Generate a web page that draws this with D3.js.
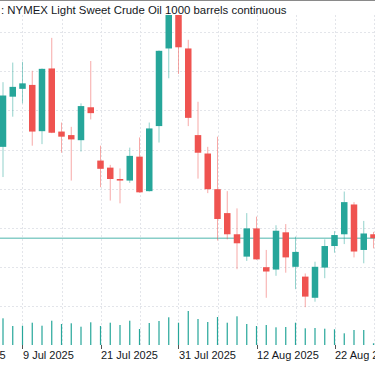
<!DOCTYPE html>
<html><head><meta charset="utf-8">
<script src="https://cdn.jsdelivr.net/npm/d3@7"></script>
<style>html,body{margin:0;padding:0;background:#fff;overflow:hidden;} svg{display:block;}</style>
</head><body>
<svg id="chart" width="375" height="366"></svg>
<script>
const title = ": NYMEX Light Sweet Crude Oil 1000 barrels continuous";
const dates = ["2025-07-07","2025-07-08","2025-07-09","2025-07-10","2025-07-11","2025-07-14","2025-07-15","2025-07-16","2025-07-17","2025-07-18",
"2025-07-21","2025-07-22","2025-07-23","2025-07-24","2025-07-25","2025-07-28","2025-07-29","2025-07-30","2025-07-31",
"2025-08-01","2025-08-04","2025-08-05","2025-08-06","2025-08-07","2025-08-08","2025-08-11","2025-08-12","2025-08-13","2025-08-14","2025-08-15",
"2025-08-18","2025-08-19","2025-08-20","2025-08-21","2025-08-22","2025-08-25","2025-08-26","2025-08-27","2025-08-28"];
const open  = [67.07,68.35,68.55,68.65,67.47,69.07,67.46,67.37,67.24,68.08,66.72,66.54,66.25,66.21,66.82,65.94,67.60,69.58,70.55,69.58,67.37,66.90,65.99,65.38,64.84,64.27,64.99,64.00,63.94,64.89,64.01,63.76,63.22,63.99,64.54,64.84,65.60,64.44,64.84];
const high  = [68.72,69.22,69.24,69.01,69.07,69.85,67.69,67.58,68.18,69.26,67.10,66.61,66.52,67.05,67.31,67.69,69.53,70.90,70.80,69.80,68.22,67.07,67.33,65.94,65.50,65.38,65.29,64.44,65.07,65.10,64.78,63.84,64.14,64.71,64.92,65.93,65.66,65.18,64.90];
const low   = [66.30,67.84,68.18,67.10,67.14,67.42,66.92,66.21,66.95,67.77,66.04,65.70,65.63,66.15,65.90,65.93,67.18,68.82,68.93,67.60,66.26,65.89,64.68,64.71,63.95,64.16,64.19,63.22,63.78,63.86,63.44,62.98,63.12,63.72,64.37,64.59,64.25,64.10,64.48];
const close = [68.38,68.60,68.69,67.46,69.06,67.43,67.33,67.26,68.11,67.93,66.51,66.25,66.21,66.84,65.91,67.54,69.52,70.60,69.61,67.81,66.92,65.99,65.23,64.84,64.61,64.99,64.20,63.89,64.93,64.25,64.39,63.25,64.01,64.54,64.82,65.66,64.40,64.86,64.74];
const volume = [267,190,193,223,193,243,210,217,183,227,190,223,200,243,160,220,240,277,223,340,260,230,280,223,287,210,190,200,177,180,223,167,170,163,157,117,150,150,17];
const tickDates  = ["2025-06-26","2025-07-09","2025-07-21","2025-07-31","2025-08-12","2025-08-22"];
const tickLabels = ["26 Jun 2025","9 Jul 2025","21 Jul 2025","31 Jul 2025","12 Aug 2025","22 Aug 2025"];
const priceGrid = [63,64,65,66,67,68,69,70];
const holidays = ["2025-07-04"];

const W = 375, H = 366;
const paneTop = 15, paneBottom = 345;
const UP = "#26a69a", DOWN = "#ef5350";
const FONT = "'Liberation Sans', Arial, sans-serif";

const parse = d3.utcParse("%Y-%m-%d"), fmt = d3.utcFormat("%Y-%m-%d");
function isTradingDay(d){ const wd = d.getUTCDay(); return wd !== 0 && wd !== 6 && !holidays.includes(fmt(d)); }
function tradingIndex(s){
  const i = dates.indexOf(s); if (i >= 0) return i;
  const d = parse(s), d0 = parse(dates[0]);
  if (d < d0) { return -d3.utcDay.range(d, d0).filter(isTradingDay).length; }
  return dates.length - 1 + d3.utcDay.range(d3.utcDay.offset(parse(dates[dates.length-1]),1), d3.utcDay.offset(d,1)).filter(isTradingDay).length;
}

const x = d3.scaleLinear().domain([0, dates.length - 1]).range([3, 373.5]);
const y = d3.scaleLinear().domain([63, 70]).range([306.4, 32]);
const yv = d3.scaleLinear().domain([0, 1000]).range([paneBottom, paneBottom - 100]);

const svg = d3.select("#chart");
svg.append("rect").attr("width", W).attr("height", H).attr("fill", "#fff");
const defs = svg.append("defs");
defs.append("clipPath").attr("id", "pane").append("rect")
  .attr("x", 0).attr("y", paneTop).attr("width", W).attr("height", paneBottom - paneTop);

const tickIdx = tickDates.map(tradingIndex);
const gridIdx = [];
tickIdx.forEach(t => { gridIdx.push(t); gridIdx.push(t + 4); });

const grid = svg.append("g").attr("clip-path", "url(#pane)")
  .attr("stroke", "#e3e5ea").attr("stroke-width", 1).attr("stroke-dasharray", "2,2");
grid.selectAll("line.v").data(gridIdx).join("line").attr("class", "v")
  .attr("x1", d => Math.round(x(d)) + 0.5).attr("x2", d => Math.round(x(d)) + 0.5)
  .attr("y1", paneTop).attr("y2", paneBottom);
grid.selectAll("line.h").data(priceGrid).join("line").attr("class", "h")
  .attr("x1", 0).attr("x2", W)
  .attr("y1", d => Math.round(y(d)) + 0.5).attr("y2", d => Math.round(y(d)) + 0.5);

// volume
const vol = svg.append("g").attr("clip-path", "url(#pane)");
vol.selectAll("rect").data(volume).join("rect")
  .attr("x", (d, i) => x(i) - 0.6).attr("width", 1.2)
  .attr("y", d => yv(d)).attr("height", d => paneBottom - yv(d))
  .attr("fill", UP);

// last price line
const lastClose = close[close.length - 1];
svg.append("line").attr("x1", 0).attr("x2", W)
  .attr("y1", y(lastClose)).attr("y2", y(lastClose))
  .attr("stroke", UP).attr("stroke-opacity", 0.55).attr("stroke-width", 1.5);

// candles
const candles = svg.append("g").attr("clip-path", "url(#pane)");
const idx = d3.range(dates.length);
const col = i => close[i] >= open[i] ? UP : DOWN;
candles.selectAll("line.wick").data(idx).join("line").attr("class", "wick")
  .attr("x1", i => x(i)).attr("x2", i => x(i))
  .attr("y1", i => y(high[i])).attr("y2", i => y(low[i]))
  .attr("stroke", col).attr("stroke-opacity", 0.5).attr("stroke-width", 1);
const bw = 6.5;
candles.selectAll("rect.body").data(idx).join("rect").attr("class", "body")
  .attr("x", i => x(i) - bw / 2).attr("width", bw)
  .attr("y", i => y(Math.max(open[i], close[i])))
  .attr("height", i => Math.max(1, Math.abs(y(open[i]) - y(close[i]))))
  .attr("fill", col);

// time axis
const ax = svg.append("g");
ax.selectAll("line").data(tickIdx).join("line")
  .attr("x1", d => Math.round(x(d)) + 0.5).attr("x2", d => Math.round(x(d)) + 0.5)
  .attr("y1", paneBottom).attr("y2", paneBottom + 4)
  .attr("stroke", "#555").attr("stroke-width", 1);
ax.selectAll("text").data(tickIdx).join("text")
  .attr("x", d => x(d) + 0.5).attr("y", 359)
  .attr("font-family", FONT).attr("font-size", 11).attr("fill", "#131722")
  .text((d, i) => tickLabels[i]);

// header
svg.append("line").attr("x1", 0).attr("x2", W).attr("y1", 0.5).attr("y2", 0.5)
  .attr("stroke", "#8a8a8a").attr("stroke-width", 1);
svg.append("text").attr("x", 1).attr("y", 14)
  .attr("font-family", FONT).attr("font-size", 11.4).attr("fill", "#131722")
  .text(title);
</script>
</body></html>
